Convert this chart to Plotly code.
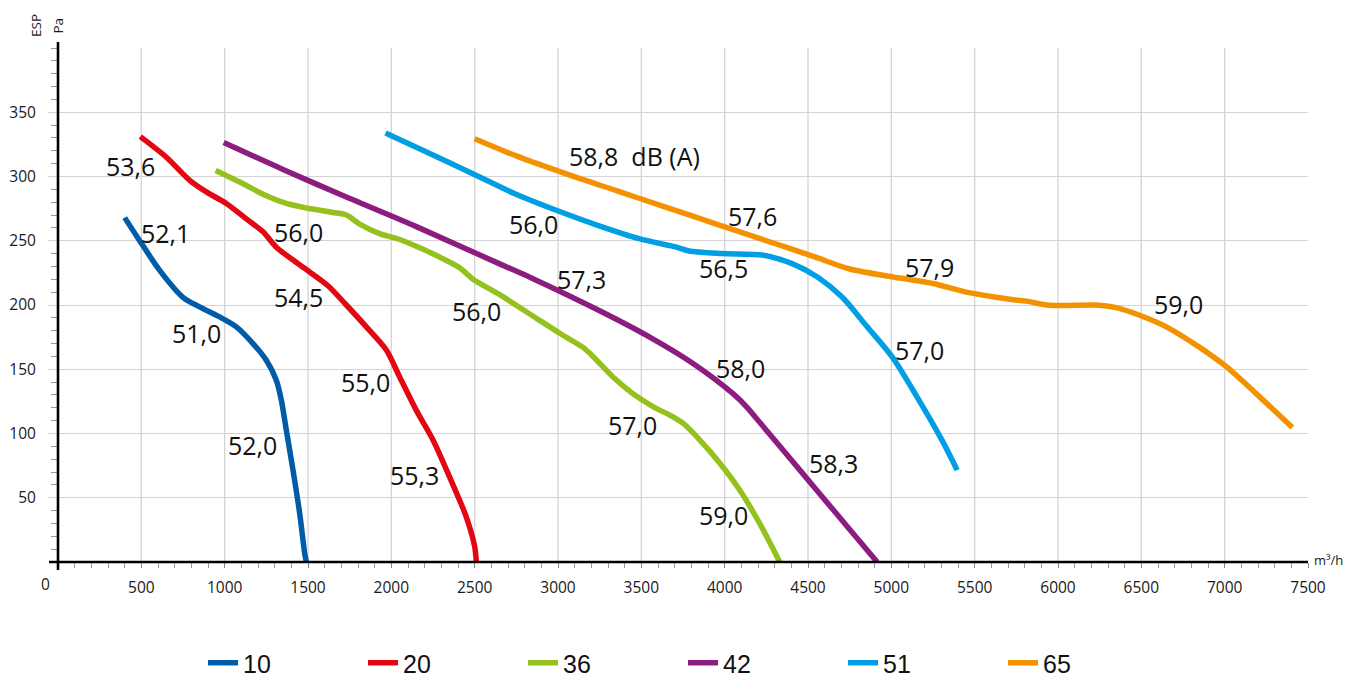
import plotly.graph_objects as go

# ---------------- data ----------------
series_names = ["10", "20", "36", "42", "51", "65"]
colors = ["#005ca8", "#e30613", "#95c11f", "#8c1c80", "#009fe3", "#f39200"]

x_10 = [400, 490, 610, 750, 850, 970, 1070, 1170, 1250, 1310, 1340, 1370, 1410, 1450, 1480, 1490]
y_10 = [268, 250, 227, 206, 198.5, 190.7, 183, 170, 157, 141.5, 126, 102.6, 71.5, 37.9, 6.8, 0]

x_20 = [494, 650, 790, 890, 1010, 1130, 1230, 1310, 1410, 1510, 1620, 1730, 1850, 1970, 2050,
        2150, 2250, 2350, 2450, 2500, 2510]
y_20 = [331, 315, 297, 288, 279, 267, 257, 245, 235, 225.7, 215, 200, 183, 165, 144,
        118, 95, 66, 35, 12, 0]

x_36 = [946, 1090, 1250, 1370, 1490, 1650, 1730, 1810, 1930, 2050, 2170, 2310, 2410, 2490,
        2650, 2890, 3010, 3150, 3210, 3330, 3450, 3570, 3690, 3750, 3850, 3970, 4090, 4210, 4330]
y_36 = [304.7, 295.7, 285, 279, 275.5, 272, 270, 263, 255.5, 251, 244.5, 236, 229, 220,
        208, 188, 178, 167, 160, 144, 131, 121, 113, 108, 95, 77, 56, 30, 0]

x_42 = [994, 1350, 1730, 2150, 2650, 2850, 3250, 3550, 3810, 4050, 4130, 4250, 4450, 4650,
        4810, 4915]
y_42 = [326.5, 305.5, 284, 261, 232, 220.5, 195.5, 175, 154.5, 131, 121, 102.5, 71.7, 40.8,
        16.2, 0]

x_51 = [1965, 2169, 2492, 2741, 2990, 3238, 3487, 3711, 3786, 3985, 4234, 4408, 4557, 4706,
        4855, 5005, 5154, 5303, 5395]
y_51 = [333.8, 321.6, 302, 286.6, 273.7, 262, 251.6, 245, 242, 240, 238.7, 232, 221.8, 206,
        183, 159.6, 128.5, 95, 71.5]

x_65 = [2500, 2750, 3050, 3350, 3650, 3950, 4250, 4550, 4750, 5050, 5250, 5450, 5710, 5810,
        5950, 6250, 6350, 6490, 6650, 6850, 7010, 7210, 7406]
y_65 = [329.4, 316, 302, 289, 276, 263, 250, 237, 228, 221, 216.7, 210, 204.5, 203,
        199.8, 199.8, 198, 192, 183, 167, 152, 128.5, 104.7]

series_x = [x_10, x_20, x_36, x_42, x_51, x_65]
series_y = [y_10, y_20, y_36, y_42, y_51, y_65]

# noise-level labels (text, airflow, pressure)
labels = [
    ("53,6", 436, 308), ("52,1", 647, 256), ("51,0", 832, 178), ("52,0", 1168, 91),
    ("56,0", 1440, 257), ("54,5", 1440, 206), ("55,0", 1844, 140), ("55,3", 2140, 68),
    ("56,0", 2510, 195), ("57,0", 3446, 106.5), ("59,0", 3994, 36.5),
    ("57,3", 3140, 220), ("58,0", 4096, 150.6), ("58,3", 4654, 76.7),
    ("56,0", 2854, 263), ("56,5", 3990, 229), ("57,0", 5166, 165),
    ("58,8\u00a0\u00a0dB (A)", 3456, 315.6), ("57,6", 4166, 269), ("57,9", 5230, 229.6),
    ("59,0", 6720, 201),
]

x_ticks = [500, 1000, 1500, 2000, 2500, 3000, 3500, 4000, 4500, 5000, 5500, 6000, 6500, 7000, 7500]
x_grid = [500, 1000, 1500, 2000, 2500, 3000, 3500, 4000, 4500, 5000, 5500, 6000, 6500, 7000]
y_ticks = [50, 100, 150, 200, 250, 300, 350]

# ---------------- figure ----------------
OFF = 8                      # page body margin of the browser
W, H = 1346, 669
ML, MT = 50, 40
PW, PH = 1250, 514
MR, MB = W - ML - PW, H - MT - PH


def px_x(sx):
    """screen pixel x -> paper coordinate"""
    return (sx - OFF - ML) / PW


def px_y(sy):
    """screen pixel y -> paper coordinate"""
    return 1 - (sy - OFF - MT) / PH


fig = go.Figure()
for name, xs, ys, c in zip(series_names, series_x, series_y, colors):
    fig.add_trace(go.Scatter(
        x=xs, y=ys, name=name, mode="lines",
        line=dict(color=c, width=5.5, shape="spline", smoothing=0.8),
        hoverinfo="skip",
    ))

tick_font = dict(family="Open Sans, Noto Sans, sans-serif", size=15.5, color="#1a1a1a")
label_font = dict(family="Open Sans, Noto Sans, sans-serif", size=25, color="#111111")
small_font = dict(family="Open Sans, Noto Sans, sans-serif", size=13.5, color="#1a1a1a")

shapes = []
for gx in x_grid:
    shapes.append(dict(type="line", xref="x", yref="y", x0=gx, x1=gx, y0=0, y1=400,
                       line=dict(color="#d4d4d4", width=1.3), layer="below"))
# axis lines (extend slightly beyond the origin like the reference)
shapes.append(dict(type="line", xref="paper", yref="paper", x0=0, x1=0,
                   y0=-8 / PH, y1=1 + 6 / PH, line=dict(color="black", width=2.6), layer="above"))
shapes.append(dict(type="line", xref="paper", yref="paper", x0=-9 / PW, x1=1,
                   y0=0, y1=0, line=dict(color="black", width=2.6), layer="above"))

annotations = []
for t, lx, ly in labels:
    annotations.append(dict(text=t, x=lx, y=ly, xref="x", yref="y", showarrow=False,
                            font=label_font, xanchor="center", yanchor="middle"))
# axis titles and the offset "0"
annotations += [
    dict(text="ESP", xref="paper", yref="paper", x=px_x(36), y=px_y(26),
         textangle=-90, showarrow=False, font=small_font, xanchor="center", yanchor="middle"),
    dict(text="Pa", xref="paper", yref="paper", x=px_x(57.5), y=px_y(26),
         textangle=-90, showarrow=False, font=small_font, xanchor="center", yanchor="middle"),
    dict(text="m³/h", xref="paper", yref="paper", x=px_x(1312), y=px_y(560),
         showarrow=False, font=dict(family="Open Sans, Noto Sans, sans-serif", size=13, color="#1a1a1a"),
         xanchor="left", yanchor="middle"),
    dict(text="0", xref="paper", yref="paper", x=px_x(45), y=px_y(584),
         showarrow=False, font=tick_font, xanchor="center", yanchor="middle"),
]

fig.update_layout(
    width=W, height=H,
    margin=dict(l=ML, r=MR, t=MT, b=MB, autoexpand=False),
    paper_bgcolor="white", plot_bgcolor="white",
    showlegend=True,
    legend=dict(orientation="h", x=px_x(203), xanchor="left", y=px_y(663),
                yanchor="middle", entrywidth=115, entrywidthmode="pixels",
                font=dict(family="Liberation Sans Narrow, Liberation Sans, sans-serif", size=25, color="#111111"),
                bgcolor="rgba(0,0,0,0)", itemclick=False, itemdoubleclick=False),
    xaxis=dict(range=[0, 7500], tickmode="array", tickvals=x_ticks,
               ticktext=[str(v) for v in x_ticks], showgrid=False, zeroline=False,
               showline=False, ticks="outside", ticklen=5, tickcolor="#888888", tickwidth=1,
               ticklabelstandoff=6, tickfont=tick_font, automargin=False, fixedrange=True,
               minor=dict(ticks="outside", ticklen=5, tickcolor="#999999", tickwidth=1,
                          dtick=100, tick0=0, showgrid=False)),
    yaxis=dict(range=[0, 400], tickmode="array", tickvals=y_ticks,
               ticktext=[str(v) for v in y_ticks], showgrid=True, gridcolor="#d4d4d4",
               gridwidth=1.3, zeroline=False, showline=False, ticks="outside", ticklen=9,
               tickcolor="#d4d4d4", tickwidth=1.3, ticklabelstandoff=9, tickfont=tick_font,
               automargin=False, fixedrange=True,
               minor=dict(ticks="outside", ticklen=6, tickcolor="#999999", tickwidth=1,
                          dtick=10, tick0=0, showgrid=False)),
    shapes=shapes,
    annotations=annotations,
)

fig.write_html("out.html")
